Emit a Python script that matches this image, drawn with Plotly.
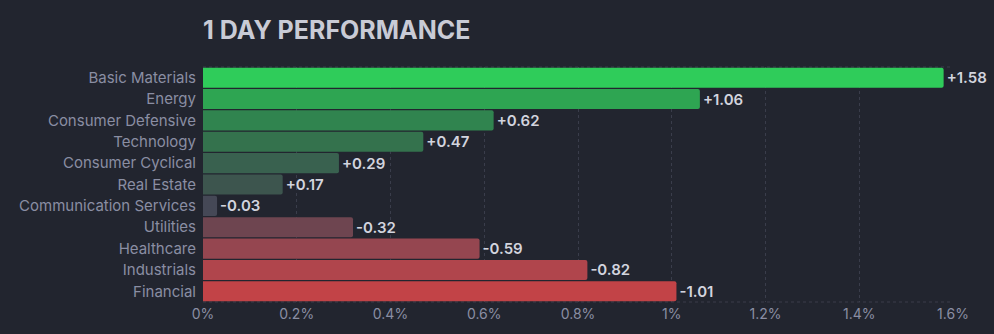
import plotly.graph_objects as go

sectors = ["Basic Materials", "Energy", "Consumer Defensive", "Technology",
           "Consumer Cyclical", "Real Estate", "Communication Services",
           "Utilities", "Healthcare", "Industrials", "Financial"]
changes = [1.58, 1.06, 0.62, 0.47, 0.29, 0.17, -0.03, -0.32, -0.59, -0.82, -1.01]
bar_colors = ["#2fcc5a", "#2ea552", "#30844f", "#34724d", "#39614f", "#3d554e",
              "#454856", "#6e4550", "#954650", "#b0454c", "#c24347"]
x_ticks = [0, 0.2, 0.4, 0.6, 0.8, 1.0, 1.2, 1.4, 1.6]
x_tick_labels = ["0%", "0.2%", "0.4%", "0.6%", "0.8%", "1%", "1.2%", "1.4%", "1.6%"]

magnitudes = [abs(v) for v in changes]
labels = [f"{v:+.2f}" for v in changes]

bg = "#22252f"
grid = "#3a3d4b"
fig = go.Figure(go.Bar(
    x=magnitudes, y=sectors, orientation="h",
    marker=dict(color=bar_colors, line=dict(width=0)),
    text=labels, textposition="outside", cliponaxis=False,
    textfont=dict(family="Inter", size=15, color="#d2d4de", weight=600),
    hoverinfo="skip",
))
fig.update_layout(
    width=994, height=334, paper_bgcolor=bg, plot_bgcolor=bg,
    margin=dict(l=203, r=41, t=67, b=32),
    bargap=0.06, barcornerradius=2, showlegend=False,
    title=dict(text="<b>1 DAY PERFORMANCE</b>", x=203/994, xanchor="left",
               xref="container", y=1-30/334, yanchor="middle", yref="container",
               font=dict(family="Inter", size=25, color="#c9cbd6")),
    font=dict(family="Inter"),
)
fig.update_xaxes(range=[0, 1.6], tickvals=x_ticks, ticktext=x_tick_labels,
                 showgrid=True, gridcolor=grid, griddash="3px,3px", gridwidth=1,
                 zeroline=False, showline=False, ticks="", ticklabelstandoff=2,
                 tickfont=dict(family="Inter", size=14, color="#8a8ea3"))
fig.update_yaxes(autorange="reversed", showgrid=False, zeroline=False, ticks="",
                 ticklabelstandoff=6,
                 tickfont=dict(family="Inter", size=15, color="#8a8ea3"))
for yv in [0, 1]:
    fig.add_shape(type="line", xref="paper", yref="paper", x0=0, x1=1, y0=yv, y1=yv,
                  line=dict(color=grid, width=1, dash="3px,3px"), layer="below")
fig.write_html("out.html")
